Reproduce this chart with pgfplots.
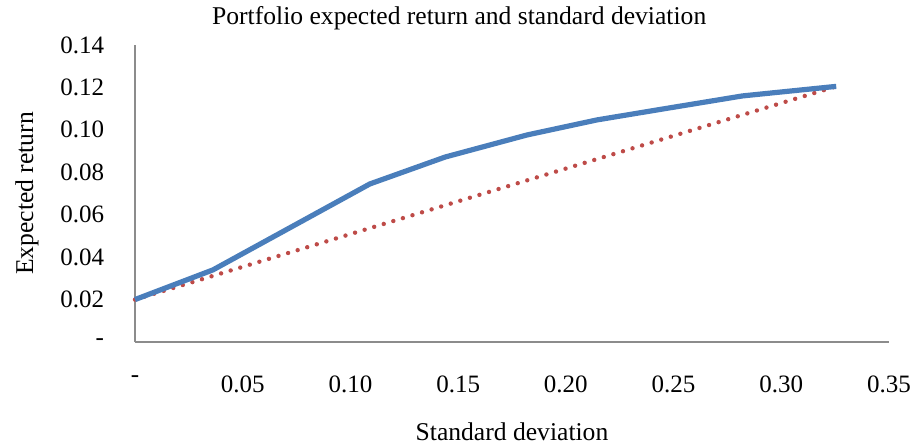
\documentclass[border=0pt]{standalone}
\usepackage{fontspec}
\setmainfont{Liberation Serif}
\usepackage{pgfplots}
\pgfplotsset{compat=1.18}
\definecolor{exblue}{HTML}{4A7EBB}
\definecolor{exred}{HTML}{BE4B48}
\begin{document}
\fontsize{12.8pt}{15pt}\selectfont
\begin{tikzpicture}
\begin{axis}[
  name=ax,
  scale only axis,
  width=377pt, height=148.5pt,
  xmin=0, xmax=0.35, ymin=0, ymax=0.14,
  axis x line=bottom, axis y line=left,
  axis line style={-, draw=black!45, line width=0.8pt},
  major tick length=0pt,
  xtick={0,0.05,0.10,0.15,0.20,0.25,0.30,0.35},
  xticklabels={-,0.05,0.10,0.15,0.20,0.25,0.30,0.35},
  ytick={0,0.02,0.04,0.06,0.08,0.10,0.12,0.14},
  yticklabels={-,0.02,0.04,0.06,0.08,0.10,0.12,0.14},
  xticklabel style={yshift=-12.5pt},
  yticklabel style={xshift=-11pt},
  tick label style={font=\fontsize{12.5pt}{15pt}\selectfont},
  clip=false,
]
\addplot[exred, line width=2.2pt, line cap=round, dash pattern=on 0pt off 5pt] coordinates {(0,0.02) (0.3255,0.1205)};
\addplot[exblue, line width=2.6pt, line join=round] coordinates {
(0,0.0200) (0.0362,0.0340) (0.1090,0.0745) (0.1440,0.0872) (0.1820,0.0976)
(0.2145,0.1047) (0.2460,0.1100) (0.2820,0.1160) (0.3255,0.1205)};
\node at (rel axis cs:0.43,1) [yshift=13.5pt] {Portfolio expected return and standard deviation};
\node at (rel axis cs:0.5,0) [yshift=-45pt] {Standard deviation};
\node at (rel axis cs:0,0.5) [xshift=-54pt, rotate=90] {Expected return};
\end{axis}
\pgfresetboundingbox
\path[use as bounding box] (ax.south west) ++(-67.5pt,-51.5pt) rectangle ++(457pt,222.5pt);
\end{tikzpicture}
\end{document}
